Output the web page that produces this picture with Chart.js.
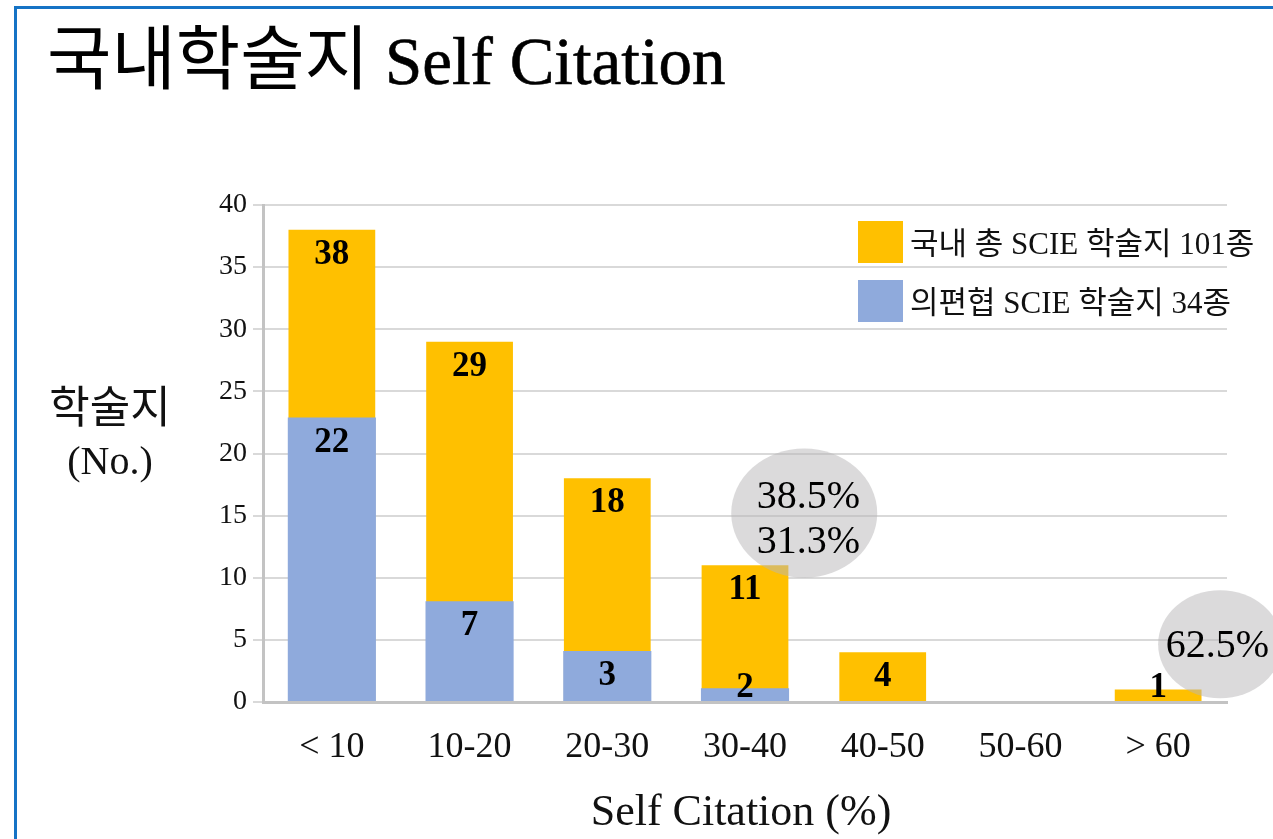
<!DOCTYPE html>
<html lang="ko">
<head>
<meta charset="utf-8">
<title>국내학술지 Self Citation</title>
<script src="https://cdn.jsdelivr.net/npm/chart.js@4.4.1/dist/chart.umd.min.js"></script>
<style>
  html, body { margin: 0; padding: 0; background: #fff; }
  body { width: 1273px; height: 839px; position: relative; overflow: hidden; }
  #frame { position: absolute; left: 14px; top: 6px; width: 1300px; height: 900px;
           border-top: 3px solid #1573C5; border-left: 3px solid #1573C5; }
  #title { position: absolute; left: 47px; top: 19px; font-size: 64px; line-height: 1;
           white-space: nowrap; color: #000; }
  #title .ko { font-family: "Noto Sans CJK KR", sans-serif; font-weight: 400; font-size: 70px; }
  #title .en { font-family: "Liberation Serif", serif; font-weight: 400; font-size: 67px;
               -webkit-text-stroke: 0.6px #000; }
  #wrap { position: absolute; left: 0; top: 0; width: 1273px; height: 839px; }
</style>
</head>
<body>
<div id="frame"></div>
<div id="title"><span class="ko">국내학술지</span> <span class="en">Self Citation</span></div>
<div id="wrap"><canvas id="c" width="1273" height="839"></canvas></div>
<script>
// ---- data ----
const categories = ['< 10', '10-20', '20-30', '30-40', '40-50', '50-60', '> 60'];
const totalJournals = [38, 29, 18, 11, 4, 0, 1];          // 국내 총 SCIE 학술지 (labels / heights)
const kamjeJournals = [22, 7, 3, 2, 0, 0, 0];             // 의편협 SCIE 학술지 (printed labels)
const kamjeBarHeights = [22.9, 8.1, 4.1, 1.1, 0, 0, 0];   // heights as drawn in the picture
const yTicks = [0, 5, 10, 15, 20, 25, 30, 35, 40];
const seriesNames = ['국내 총 SCIE 학술지 101종', '의편협 SCIE 학술지 34종'];
const calloutTexts = [['38.5%', '31.3%'], ['62.5%']];
const yAxisTitle = ['학술지', '(No.)'];
const xAxisTitle = 'Self Citation (%)';

const YELLOW = '#FFC000';
const BLUE = '#8FAADC';
const SERIF = '"Liberation Serif", "Times New Roman", serif';
const KO = '"Noto Sans CJK KR", sans-serif';
const MIXED = '"Liberation Serif", "Noto Sans CJK KR", serif';

// callout placement (category index / value units)
const callouts = [
  { cx: 3.43, cy: 15.2, rx: 0.53, ry: 5.2, dx: 0.03, dy: 7, lines: calloutTexts[0] },
  { cx: 6.45, cy: 4.65, rx: 0.45, ry: 4.35, dx: -0.02, dy: 2, lines: calloutTexts[1] }
];

const overlay = {
  id: 'overlay',
  afterDatasetsDraw(chart) {
    const ctx = chart.ctx;
    const xs = chart.scales.x, ys = chart.scales.y;
    const zero = ys.getPixelForValue(0);
    ctx.save();
    ctx.font = 'bold 35px ' + SERIF;
    ctx.textAlign = 'center';
    ctx.textBaseline = 'middle';
    ctx.fillStyle = '#000';
    [[0, totalJournals], [1, kamjeJournals]].forEach(([di, vals]) => {
      const meta = chart.getDatasetMeta(di);
      meta.data.forEach((bar, i) => {
        if (!vals[i]) return;
        const y = Math.min(bar.y + 25, zero - 14);
        ctx.fillText(String(vals[i]), bar.x, y);
      });
    });
    // callout ellipses
    const step = xs.getPixelForValue(1) - xs.getPixelForValue(0);
    const unit = ys.getPixelForValue(0) - ys.getPixelForValue(1);
    callouts.forEach(c => {
      const px = xs.getPixelForValue(0) + c.cx * step;
      const py = ys.getPixelForValue(c.cy);
      ctx.beginPath();
      ctx.ellipse(px, py, c.rx * step, c.ry * unit, 0, 0, Math.PI * 2);
      ctx.fillStyle = 'rgba(184,182,184,0.5)';
      ctx.fill();
      ctx.fillStyle = '#000';
      ctx.font = '40px ' + SERIF;
      const n = c.lines.length;
      c.lines.forEach((t, k) => {
        ctx.fillText(t, px + c.dx * step, py + (k - (n - 1) / 2) * 45 + c.dy);
      });
    });
    ctx.restore();
  },
  afterDraw(chart) {
    const ctx = chart.ctx;
    const a = chart.chartArea;
    ctx.save();
    // legend
    const lx = a.left + 595, ly = a.top + 16;
    [YELLOW, BLUE].forEach((col, k) => {
      const y = ly + k * 59;
      ctx.fillStyle = col;
      ctx.fillRect(lx, y, 45, 42);
      ctx.fillStyle = '#111';
      ctx.font = '31px ' + MIXED;
      ctx.textAlign = 'left';
      ctx.textBaseline = 'middle';
      ctx.fillText(seriesNames[k], lx + 52, y + 25);
    });
    // y axis title
    ctx.textAlign = 'center';
    ctx.textBaseline = 'middle';
    ctx.fillStyle = '#111';
    ctx.font = '44px ' + KO;
    ctx.fillText(yAxisTitle[0], 110, 406);
    ctx.font = '40px ' + SERIF;
    ctx.fillText(yAxisTitle[1], 110, 463);
    // x axis title
    ctx.font = '44px ' + SERIF;
    ctx.fillText(xAxisTitle, (a.left + a.right) / 2 - 4, 813);
    ctx.restore();
  }
};

new Chart(document.getElementById('c'), {
  type: 'bar',
  data: {
    labels: categories,
    datasets: [
      { label: seriesNames[0], data: totalJournals, backgroundColor: YELLOW,
        grouped: false, order: 2, barPercentage: 0.63, categoryPercentage: 1 },
      { label: seriesNames[1], data: kamjeBarHeights, backgroundColor: BLUE,
        grouped: false, order: 1, barPercentage: 0.64, categoryPercentage: 1 }
    ]
  },
  options: {
    responsive: false,
    animation: false,
    events: [],
    layout: { padding: { left: 0, top: 205, right: 46, bottom: 0 } },
    plugins: { legend: { display: false }, tooltip: { enabled: false }, title: { display: false } },
    scales: {
      x: {
        grid: { display: false },
        border: { display: true, color: '#C3C3C3', width: 3 },
        ticks: { color: '#111', font: { family: SERIF, size: 36 }, padding: 16, maxRotation: 0 },
        afterFit(s) { s.height = 137; }
      },
      y: {
        min: 0, max: 40,
        afterBuildTicks(s) { s.ticks = yTicks.map(v => ({ value: v })); },
        grid: { color: '#D9D9D9', lineWidth: 2, tickLength: 10, drawTicks: true },
        border: { display: true, color: '#C3C3C3', width: 3 },
        ticks: { color: '#111', font: { family: SERIF, size: 28 }, padding: 6 },
        afterFit(s) { s.width = 263; }
      }
    }
  },
  plugins: [overlay]
});
</script>
</body>
</html>
